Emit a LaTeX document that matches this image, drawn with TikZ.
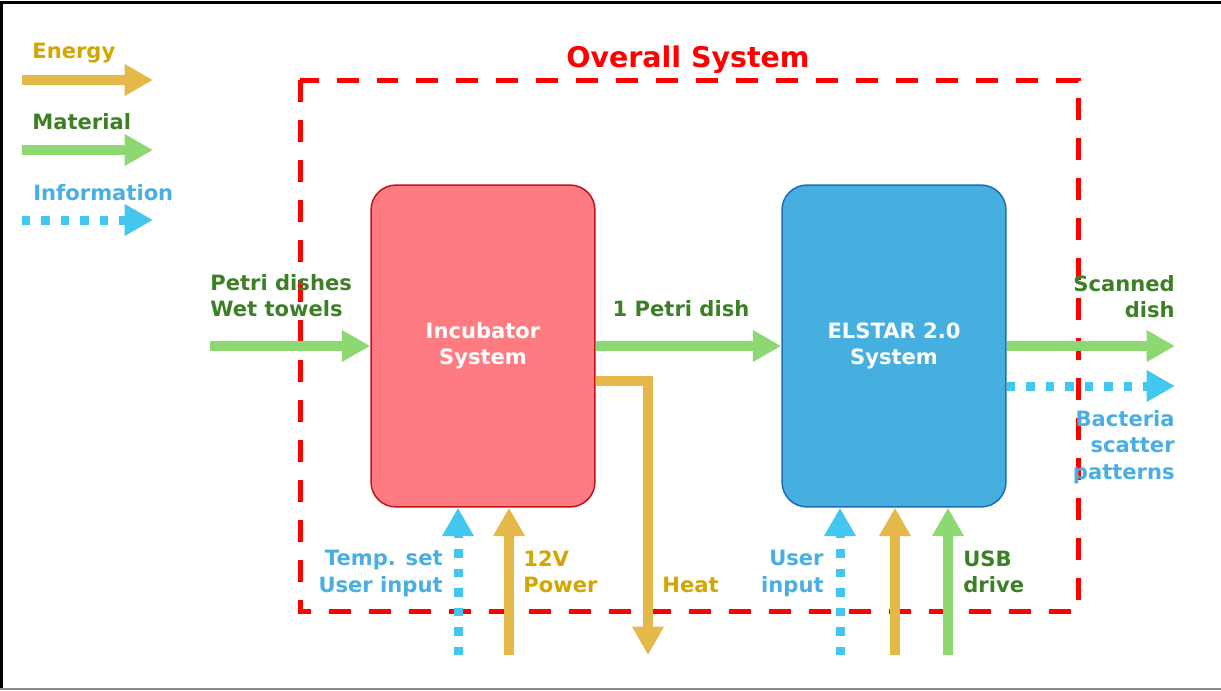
\documentclass[tikz,border=0pt]{standalone}
\usepackage{fontspec}
\setmainfont{DejaVu Sans}
\usepackage{tikz}
\usetikzlibrary{arrows.meta}
\definecolor{enflow}{HTML}{E5B84A}
\definecolor{entxt}{HTML}{D2A500}
\definecolor{matflow}{HTML}{8ED873}
\definecolor{mattxt}{HTML}{3C7F27}
\definecolor{infflow}{HTML}{44C7EF}
\definecolor{inftxt}{HTML}{4AAEE2}
\definecolor{sysred}{HTML}{FF0000}
\definecolor{incfill}{HTML}{FF7B82}
\definecolor{incline}{HTML}{C3121C}
\definecolor{scanfill}{HTML}{45AFE0}
\definecolor{scanline}{HTML}{1B6DB5}

\begin{document}
\begin{tikzpicture}[
  x=0.02cm, y=-0.02cm,
  font=\bfseries\fontsize{12}{15}\selectfont,
  sysbox/.style={rounded corners=0.5cm, line width=0.03cm, minimum width=4.48cm, minimum height=6.44cm, text=white, align=center},
  lbl/.style={inner sep=0pt},
  energy/.style={draw=enflow, line width=0.2cm, line join=miter, -{Triangle[length=0.57cm, width=0.6cm]}},
  material/.style={draw=matflow, line width=0.2cm, -{Triangle[length=0.57cm, width=0.6cm]}},
  info/.style={draw=infflow, line width=0.18cm, dash pattern=on 0.17cm off 0.22cm, -{Triangle[length=0.57cm, width=0.6cm]}}
]
\useasboundingbox (0,0) rectangle (1221,690);
% frame
\draw[black, line width=0.06cm] (1.5,690) -- (1.5,2) -- (1221,2);
\draw[black!45, line width=0.04cm] (0,688.5) -- (1221,688.5);

% legend
\node[lbl, text=entxt, anchor=north west] (lgen) at (32,43) {Energy};
\node[lbl, text=mattxt, anchor=north west] (lgmat) at (32,113) {Material};
\node[lbl, text=inftxt, anchor=north west] (lginf) at (33,184) {Information};
\coordinate (lgenA) at (22,80);  \coordinate (lgenB) at (153,80);
\coordinate (lgmatA) at (22,150); \coordinate (lgmatB) at (153,150);
\coordinate (lginfA) at (22,220); \coordinate (lginfB) at (153,220);
\draw[energy] (lgenA) -- (lgenB);
\draw[material] (lgmatA) -- (lgmatB);
\draw[info] (lginfA) -- (lginfB);

% system boundary
\draw[sysred, line width=0.1cm, dash pattern=on 0.44cm off 0.36cm] (300,80) rectangle (1078,611);
\node[lbl, text=sysred, font=\bfseries\fontsize{16.2}{19}\selectfont] (overall) at (688,60) {Overall System};

% subsystems
\node[sysbox, fill=incfill, draw=incline] (incub) at (483,346) {Incubator\\System};
\node[sysbox, fill=scanfill, draw=scanline] (elstar) at (894,346) {ELSTAR 2.0\\System};

% free ends
\coordinate (dishin) at (210,346);
\coordinate (dishout) at (1175,346);
\coordinate (dataout) at (1175,386);
\coordinate (heatout) at (648,655);
\coordinate (tempin) at (458,655);
\coordinate (powin) at (509,655);
\coordinate (userin) at (840,655);
\coordinate (elpow) at (895,655);
\coordinate (usbin) at (948,655);

% flows
\draw[material] (dishin) -- (incub.west);
\draw[material] (incub.east) -- (elstar.west);
\draw[material] (elstar.east) -- (dishout);
\draw[info] (elstar.east |- dataout) -- (dataout);
\draw[energy] ([yshift=-0.7cm]incub.east) -| (heatout);
\draw[info] (tempin) -- (tempin |- incub.south);
\draw[energy] (powin) -- (powin |- incub.south);
\draw[info] (userin) -- (userin |- elstar.south);
\draw[energy] (elpow) -- (elpow |- elstar.south);
\draw[material] (usbin) -- (usbin |- elstar.south);

% flow labels
\node[lbl, text=mattxt, anchor=north west, align=left] (dishlbl) at (210,274) {Petri dishes\\Wet towels};
\node[lbl, text=mattxt, anchor=north] (onelbl) at (681,300) {1 Petri dish};
\node[lbl, text=mattxt, anchor=north east, align=right] (scanlbl) at (1175,275) {Scanned\\dish};
\node[lbl, text=inftxt, anchor=north east, align=right] (bactlbl) at (1175,410) {Bacteria\\scatter\\patterns};
\node[lbl, text=inftxt, anchor=north east, align=right] (templbl) at (443,550) {Temp. set\\User input};
\node[lbl, text=entxt, anchor=north west, align=left] (powlbl) at (523,550) {12V\\Power};
\node[lbl, text=entxt, anchor=north west] (heatlbl) at (662,577) {Heat};
\node[lbl, text=inftxt, anchor=north east, align=right] (userlbl) at (824,550) {User\\input};
\node[lbl, text=mattxt, anchor=north west, align=left] (usblbl) at (963,550) {USB\\drive};
\end{tikzpicture}
\end{document}
